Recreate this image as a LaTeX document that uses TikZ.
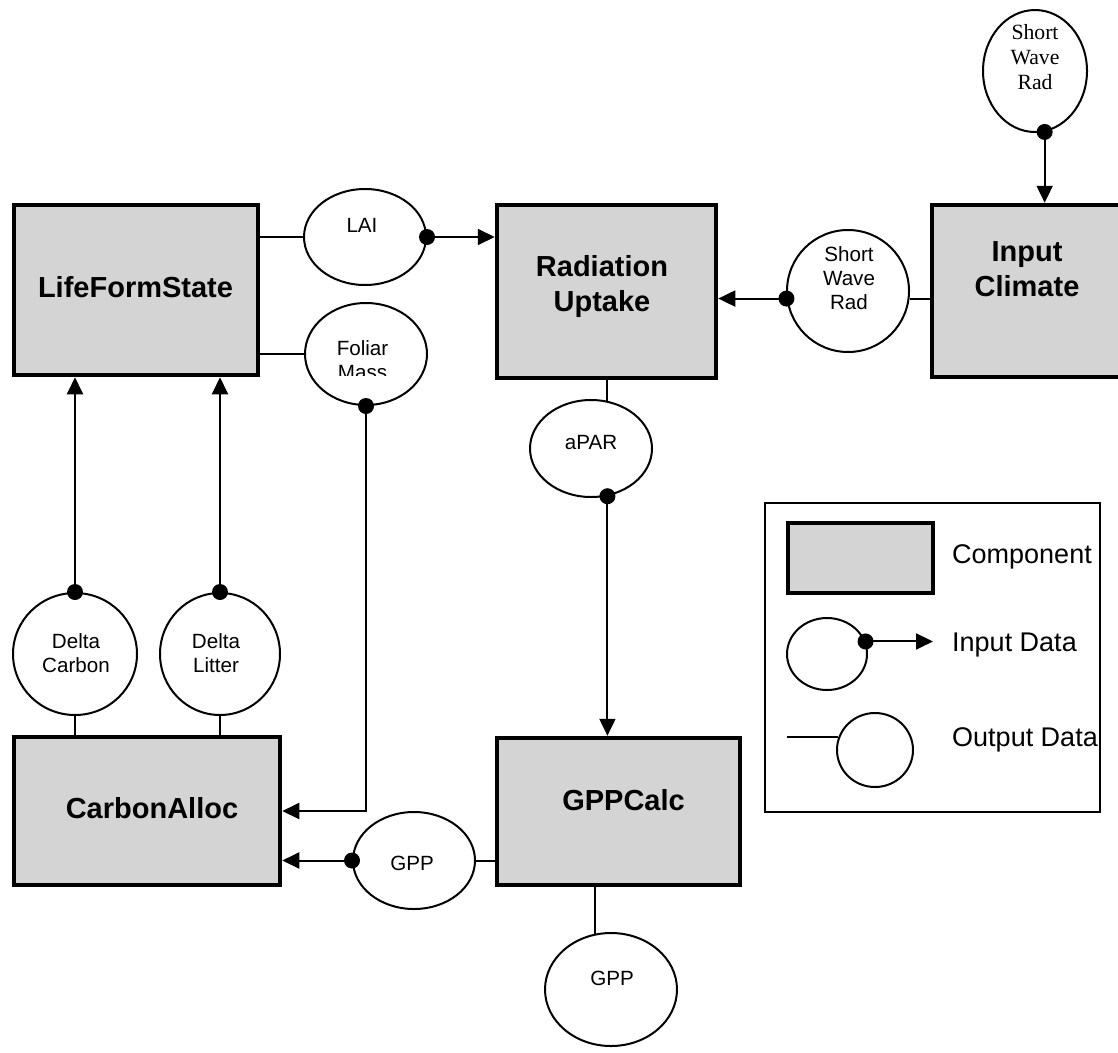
\documentclass[tikz,border=0pt]{standalone}
\usepackage{fontspec}
\setmainfont{Liberation Sans}
\newfontfamily\timesfont{Liberation Serif}
\usetikzlibrary{shapes.geometric,arrows.meta}
\definecolor{boxgray}{RGB}{212,212,212}

\begin{document}
\begin{tikzpicture}[x=1pt,y=-1pt,
  comp/.style={rectangle, draw=black, line width=4.5pt, fill=boxgray, inner sep=0pt},
  compname/.style={font=\bfseries\fontsize{29}{35}\selectfont, align=center, inner sep=0pt},
  datum/.style={ellipse, draw=black, line width=2pt, fill=white, inner sep=0pt},
  dataname/.style={font=\fontsize{20.6}{24}\selectfont, align=center, inner sep=0pt},
  serifname/.style={font=\timesfont\fontsize{21.7}{25}\selectfont, align=center, inner sep=0pt},
  port/.style={circle, fill=black, inner sep=0pt, minimum size=16pt},
  flow/.style={line width=2pt, -{Triangle[length=17pt,width=16pt]}},
  link/.style={line width=2pt},
  legendname/.style={font=\fontsize{27}{32}\selectfont, anchor=west, inner sep=0pt}]

\path[use as bounding box] (0,0) rectangle (1118,1052);
\clip (0,0) rectangle (1118,1052);

% ---------- components ----------
\node[comp, minimum width=244pt, minimum height=170pt] (lfs) at (136,290) {};
\node[compname] (lfs-t) at (135.5,287) {LifeFormState};

\node[comp, minimum width=219pt, minimum height=173pt] (rad) at (606.5,291.5) {};
\node[compname] (rad-t) at (602,286) {Radiation\\Uptake};

\node[comp, minimum width=190pt, minimum height=172pt] (inc) at (1027,291) {};
\node[compname] (inc-t) at (1027,269) {Input\\Climate};

\node[comp, minimum width=266pt, minimum height=148pt] (ca) at (147,811) {};
\node[compname] (ca-t) at (152,808) {CarbonAlloc};

\node[comp, minimum width=243pt, minimum height=147pt] (gpc) at (618.5,811.5) {};
\node[compname] (gpc-t) at (623.5,800) {GPPCalc};

% ---------- data items ----------
\node[datum, minimum width=122pt, minimum height=96pt] (lai) at (365,237) {};
\node[dataname] (lai-t) at (362,225) {LAI};

\node[datum, minimum width=122pt, minimum height=102pt] (fm) at (366,354) {};
\begin{scope}
  \clip (300,300) rectangle (432,375);
  \node[dataname] (fm-t) at (362.5,360) {Foliar\\Mass};
\end{scope}

\node[datum, minimum width=122pt, minimum height=122pt] (swr) at (848,291) {};
\node[dataname] (swr-t) at (849,278) {Short\\Wave\\Rad};

\node[datum, minimum width=104pt, minimum height=122pt] (tswr) at (1035,71) {};
\node[serifname] (tswr-t) at (1035,57) {Short\\Wave\\Rad};

\node[datum, minimum width=122pt, minimum height=97pt] (apar) at (591,448.5) {};
\node[dataname] (apar-t) at (591,443) {aPAR};

\node[datum, minimum width=124pt, minimum height=122pt] (dc) at (75,654) {};
\node[dataname] (dc-t) at (76,653) {Delta\\Carbon};

\node[datum, minimum width=120pt, minimum height=122pt] (dl) at (220,654) {};
\node[dataname] (dl-t) at (216,653) {Delta\\Litter};

\node[datum, minimum width=122pt, minimum height=97pt] (gppl) at (414,860.5) {};
\node[dataname] (gppl-t) at (412,863) {GPP};

\node[datum, minimum width=132pt, minimum height=113pt] (gppb) at (611,989.5) {};
\node[dataname] (gppb-t) at (612,978) {GPP};

% ---------- output links ----------
\draw[link] (lai.west) -- (lai.west -| lfs.east);
\draw[link] (fm.west) -- (fm.west -| lfs.east);
\draw[link] (swr.353) -- (swr.353 -| inc.west);
\draw[link] (apar.71) -- (apar.71 |- rad.south);
\draw[link] (dc.south) -- (dc.south |- ca.north);
\draw[link] (dl.south) -- (dl.south |- ca.north);
\draw[link] (gppl.east) -- (gppl.east -| gpc.west);
\draw[link] (gppb.106) -- (gppb.106 |- gpc.south);

% ---------- input flows ----------
\node[port] (lai-p) at (lai.east) {};
\draw[flow] (lai-p.center) -- (lai-p.center -| rad.west);

\node[port] (fm-p) at (fm.south) {};
\draw[flow] (fm-p.center) |- (ca.east);

\node[port] (swr-p) at (swr.187) {};
\draw[flow] (swr-p.center) -- (swr-p.center -| rad.east);

\node[port] (tswr-p) at (tswr.-81) {};
\draw[flow] (tswr-p.center) -- (tswr-p.center |- inc.north);

\node[port] (apar-p) at (apar.-71) {};
\draw[flow] (apar-p.center) -- (apar-p.center |- gpc.north);

\node[port] (dc-p) at (dc.north) {};
\draw[flow] (dc-p.center) -- (dc-p.center |- lfs.south);

\node[port] (dl-p) at (dl.north) {};
\draw[flow] (dl-p.center) -- (dl-p.center |- lfs.south);

\node[port] (gppl-p) at (gppl.west) {};
\draw[flow] (gppl-p.center) -- (gppl-p.center -| ca.east);

% ---------- legend ----------
\node[rectangle, draw=black, line width=1.5pt, minimum width=335pt, minimum height=309pt,
      inner sep=0pt] (legend) at (932.5,657.5) {};

\node[comp, minimum width=145pt, minimum height=70pt] (leg-comp) at (860.5,558) {};
\node[legendname] (leg-comp-t) at (952,557) {Component};

\node[datum, minimum width=80pt, minimum height=72pt] (leg-in) at (827,654) {};
\coordinate (leg-in-end) at (933,642);
\node[port] (leg-in-p) at (leg-in.18) {};
\draw[flow] (leg-in-p.center) -- (leg-in-p.center -| leg-in-end);
\node[legendname] (leg-in-t) at (952,645) {Input Data};

\node[datum, minimum width=76pt, minimum height=74pt] (leg-out) at (875,750) {};
\coordinate (leg-out-start) at (787,738);
\draw[link] (leg-out.161) -- (leg-out.161 -| leg-out-start);
\node[legendname] (leg-out-t) at (952,740) {Output Data};

\end{tikzpicture}
\end{document}
